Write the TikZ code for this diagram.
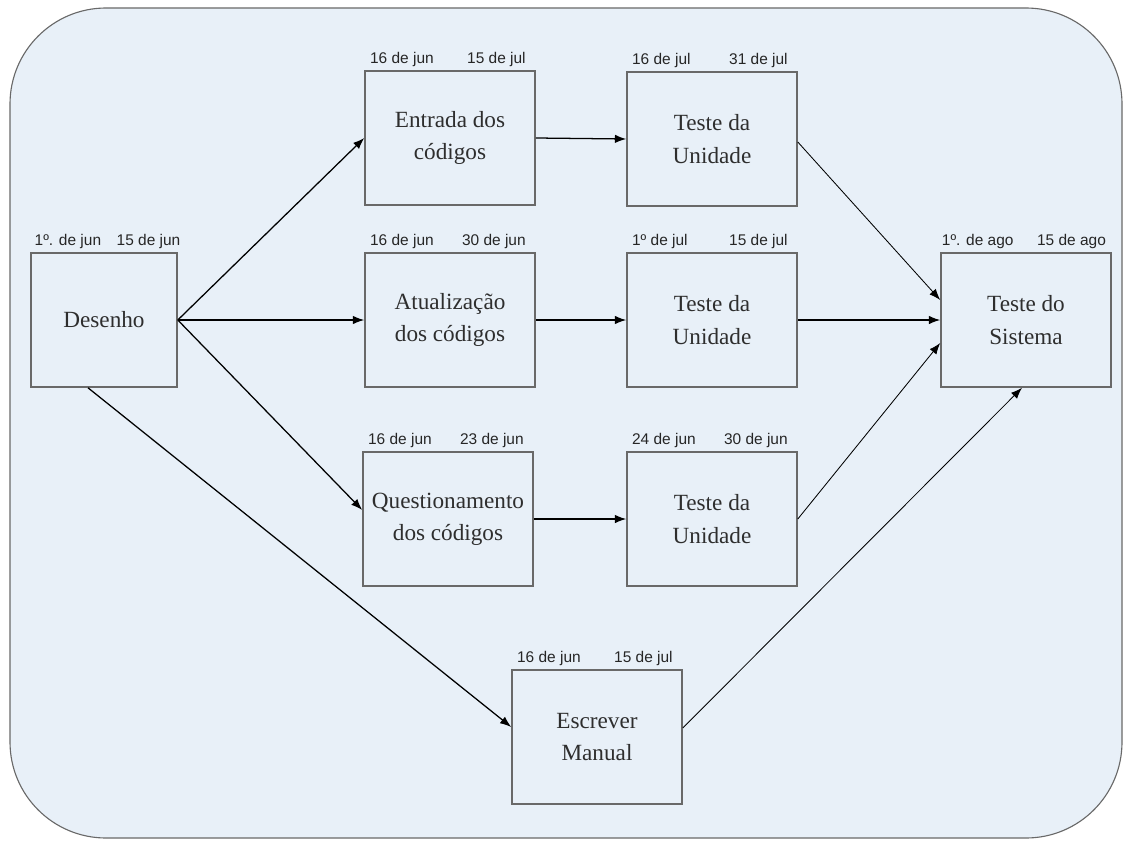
\documentclass[tikz,border=0pt]{standalone}
\usepackage{fontspec}
\setmainfont{Liberation Serif}
\newfontfamily\datafont{Liberation Sans}
\usetikzlibrary{positioning,calc,arrows.meta}

\definecolor{fundo}{RGB}{232,240,248}
\definecolor{borda}{RGB}{105,105,105}

\tikzset{
  etapa/.style={draw=borda, line width=1.1pt, minimum width=4.25cm, minimum height=3.35cm,
    align=center, inner sep=0pt, text=black!82, font=\fontsize{16.5}{23}\selectfont},
  data/.style={inner sep=0pt, yshift=2.5pt, text=black!85, font=\datafont\fontsize{11}{12}\selectfont},
  ini/.style={data, anchor=south west, xshift=4pt},
  fim/.style={data, anchor=south east, xshift=-7pt},
  seta/.style={-{Latex[length=8pt,width=6pt]}, line width=0.9pt},
  fina/.style={seta, line width=0.6pt},
}

\begin{document}
\begin{tikzpicture}[x=0.025cm, y=-0.025cm]
  % moldura de fundo
  \draw[borda, fill=fundo, line width=0.8pt, rounded corners=2.4cm] (10,8) rectangle (1122,838);
  \useasboundingbox (0,0) rectangle (1124,841);

  % etapas
  \node[etapa, minimum width=3.65cm] (desenho) at (104,320) {Desenho};
  \node[etapa] (entrada) at (450,138) {Entrada dos\\códigos};
  \node[etapa] (unid1)   at (712,139) {Teste da\\Unidade};
  \node[etapa] (atual)   at (450,320) {Atualização\\dos códigos};
  \node[etapa] (unid2)   at (712,320) {Teste da\\Unidade};
  \node[etapa] (quest)   at (448,519) {Questionamento\\dos códigos};
  \node[etapa] (unid3)   at (712,519) {Teste da\\Unidade};
  \node[etapa] (manual)  at (597,737) {Escrever\\Manual};
  \node[etapa] (sistema) at (1026,320) {Teste do\\Sistema};

  % datas de inicio e fim
  \node[ini, xshift=-1pt] (desenho-ini) at (desenho.north west) {1º. de jun};
  \node[fim, xshift=9pt]  (desenho-fim) at (desenho.north east) {15 de jun};
  \node[ini] (entrada-ini) at (entrada.north west) {16 de jun};
  \node[fim] (entrada-fim) at (entrada.north east) {15 de jul};
  \node[ini] (unid1-ini) at (unid1.north west) {16 de jul};
  \node[fim] (unid1-fim) at (unid1.north east) {31 de jul};
  \node[ini] (atual-ini) at (atual.north west) {16 de jun};
  \node[fim] (atual-fim) at (atual.north east) {30 de jun};
  \node[ini] (unid2-ini) at (unid2.north west) {1º de jul};
  \node[fim] (unid2-fim) at (unid2.north east) {15 de jul};
  \node[ini] (quest-ini) at (quest.north west) {16 de jun};
  \node[fim] (quest-fim) at (quest.north east) {23 de jun};
  \node[ini] (unid3-ini) at (unid3.north west) {24 de jun};
  \node[fim] (unid3-fim) at (unid3.north east) {30 de jun};
  \node[ini] (manual-ini) at (manual.north west) {16 de jun};
  \node[fim] (manual-fim) at (manual.north east) {15 de jul};
  \node[ini, xshift=-3pt] (sistema-ini) at (sistema.north west) {1º. de ago};
  \node[fim, xshift=3pt]  (sistema-fim) at (sistema.north east) {15 de ago};

  % dependencias
  \draw[seta] (desenho.east) -- (entrada.west);
  \draw[seta] (desenho.east) -- (atual.west);
  \draw[seta] (desenho.east) -- ($(quest.west)+(0,-9)$);
  \draw[seta] ($(desenho.south)+(-16,0)$) -- ($(manual.west)+(0,-10)$);
  \draw[seta] (entrada.east) -- (unid1.west);
  \draw[seta] (atual.east) -- (unid2.west);
  \draw[seta] (quest.east) -- (unid3.west);
  \draw[fina] ($(unid1.east)+(0,3)$) -- ($(sistema.west)+(0,-20)$);
  \draw[seta] (unid2.east) -- (sistema.west);
  \draw[fina] (unid3.east) -- ($(sistema.west)+(0,23)$);
  \draw[fina] ($(manual.east)+(0,-9)$) -- ($(sistema.south)+(-4,0)$);
\end{tikzpicture}
\end{document}
